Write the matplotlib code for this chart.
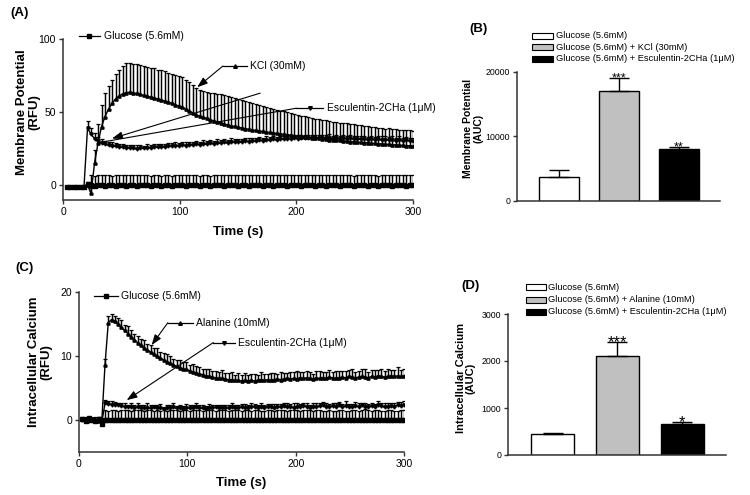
import numpy as np
import matplotlib
matplotlib.use('Agg')
import matplotlib.pyplot as plt
from matplotlib.patches import Rectangle

plt.rcParams['font.family'] = ['Liberation Sans', 'DejaVu Sans']

# time points (s)
t = np.arange(3, 301, 3)

# ---- panel A: membrane potential (RFU) ----
glc_a = [-0.9, -1.1, -0.8, -1.2, -0.9, -1.0, 1.2,
         0.1, -0.2, 0.0, 0.2, -0.1, 0.1, 0.0, -0.2, 0.1, 0.0,
         -0.1, 0.2, 0.0, -0.1, 0.1, 0.0, 0.2, -0.1, 0.0, 0.1,
         -0.2, 0.0, 0.1, -0.1, 0.0, 0.2, 0.0, -0.1, 0.1, 0.0,
         0.1, -0.1, 0.0, 0.2, -0.2, 0.0, 0.1, 0.0, -0.1, 0.1,
         0.0, 0.2, -0.1, 0.0, 0.1, -0.1, 0.0, 0.1, 0.0, -0.2,
         0.1, 0.0, -0.1, 0.2, 0.0, 0.1, -0.1, 0.0, 0.1, 0.0,
         -0.1, 0.1, 0.0, 0.2, -0.1, 0.0, 0.1, -0.2, 0.0, 0.1,
         0.0, -0.1, 0.2, 0.0, 0.1, -0.1, 0.0, 0.1, 0.0, -0.1,
         0.2, 0.0, -0.1, 0.1, 0.0, 0.1, -0.2, 0.0, 0.1, 0.0,
         -0.1, 0.1, 0.0]
glc_a_err = [0.0, 0.0, 0.0, 0.0, 0.0, 0.0, 1.0,
             7.0, 6.8, 7.2, 6.9, 7.1, 7.0, 6.7, 7.2, 6.9, 7.0,
             7.1, 6.8, 7.0, 7.3, 6.9, 7.0, 7.1, 6.8, 7.2, 7.0,
             6.9, 7.1, 7.0, 6.8, 7.2, 7.0, 6.9, 7.1, 7.0, 7.2,
             7.0, 6.8, 7.1, 7.0, 6.9, 7.2, 7.0, 6.8, 7.1, 7.0,
             7.2, 6.9, 7.0, 7.1, 6.8, 7.0, 7.2, 6.9, 7.0, 7.1,
             6.9, 7.0, 7.2, 6.8, 7.1, 7.0, 6.9, 7.2, 7.0, 6.8,
             7.1, 7.0, 6.9, 7.2, 7.0, 7.1, 6.8, 7.0, 7.2, 6.9,
             7.0, 7.1, 6.9, 7.0, 7.2, 6.8, 7.0, 7.1, 6.9, 7.0,
             7.2, 7.0, 6.8, 7.1, 7.0, 6.9, 7.2, 7.0, 7.1, 6.9,
             7.0, 7.1, 7.0]
kcl_a = [-1.0, -0.8, -1.1, -0.9, -1.2, -0.8, 0.2,
         -5.5, 15.0, 29.0, 40.0, 47.0, 52.0, 56.0, 59.0, 61.0, 62.5,
         63.4, 63.6, 63.2, 62.8, 62.1, 61.4, 61.1, 60.3, 59.9, 59.1,
         58.5, 57.5, 56.9, 56.2, 55.1, 54.3, 53.5, 52.0, 50.9, 49.6,
         48.1, 47.3, 46.4, 45.8, 44.8, 44.2, 43.2, 42.7, 41.8, 41.4,
         40.6, 40.3, 39.6, 39.3, 38.7, 38.4, 37.8, 37.6, 37.0, 36.9,
         36.3, 36.2, 35.7, 35.6, 35.1, 35.0, 34.5, 34.4, 33.9, 33.8,
         33.3, 33.2, 32.8, 32.7, 32.2, 32.1, 31.7, 31.6, 31.2, 31.1,
         30.7, 30.7, 30.3, 30.3, 29.9, 29.9, 29.5, 29.5, 29.1, 29.1,
         28.7, 28.7, 28.4, 28.4, 28.0, 28.1, 27.7, 27.7, 27.4, 27.4,
         27.1, 27.1, 26.9]
kcl_a_err = [0.0, 0.0, 0.0, 0.0, 0.0, 0.0, 1.5,
             4.0, 9.0, 13.0, 15.0, 16.0, 16.0, 16.0, 17.0, 18.0, 19.0,
             20.0, 20.0, 19.5, 20.0, 19.8, 20.2, 19.6, 20.0, 20.3, 19.7,
             20.0, 20.4, 19.8, 20.1, 20.5, 20.2, 20.6, 20.0, 19.4, 18.8,
             18.2, 17.6, 17.8, 18.3, 18.6, 19.0, 19.3, 19.5, 19.6, 19.7,
             19.8, 19.7, 19.5, 19.2, 18.9, 18.6, 18.3, 18.0, 17.7, 17.4,
             17.1, 16.8, 16.5, 16.2, 15.9, 15.6, 15.3, 15.0, 14.7, 14.4,
             14.2, 14.0, 13.8, 13.6, 13.4, 13.2, 13.0, 12.8, 12.7, 12.5,
             12.4, 12.2, 12.1, 12.0, 11.8, 11.7, 11.6, 11.5, 11.4, 11.3,
             11.2, 11.1, 11.0, 10.9, 10.8, 10.8, 10.7, 10.6, 10.6, 10.5,
             10.5, 10.4, 10.4]
esc_a = [-0.8, -1.0, -0.9, -1.1, -1.0, -0.9, 39.0,
         35.0, 32.0, 30.0, 28.8, 28.0, 27.4, 27.0, 26.6, 26.2, 26.0,
         25.7, 25.5, 25.3, 25.0, 25.5, 25.2, 25.8, 25.6, 26.2, 26.0,
         26.5, 26.2, 26.8, 26.6, 27.2, 26.9, 27.5, 27.2, 27.8, 27.5,
         28.1, 27.8, 28.4, 28.1, 28.7, 28.4, 29.0, 28.7, 29.3, 29.0,
         29.6, 29.3, 29.9, 29.6, 30.2, 29.9, 30.5, 30.2, 30.8, 30.5,
         31.1, 30.8, 31.4, 31.1, 31.7, 31.4, 32.0, 31.7, 32.2, 31.9,
         32.4, 32.1, 32.5, 32.2, 32.6, 32.2, 32.6, 32.1, 32.5, 32.0,
         32.4, 31.9, 32.2, 31.7, 32.1, 31.6, 31.9, 31.4, 31.8, 31.3,
         31.6, 31.1, 31.4, 30.9, 31.3, 30.8, 31.1, 30.6, 31.0, 30.5,
         30.8, 30.3, 30.4]
esc_a_err = [0.0, 0.0, 0.0, 0.0, 0.0, 0.0, 5.0,
             4.0, 3.5, 3.0, 2.6, 2.4, 2.2, 2.3, 2.1, 2.4, 2.2,
             2.0, 2.3, 2.1, 2.5, 2.2, 2.0, 2.4, 2.1, 2.3, 2.2,
             2.0, 2.4, 2.2, 2.1, 2.5, 2.2, 2.0, 2.3, 2.1, 2.4,
             2.2, 2.0, 2.3, 2.5, 2.1, 2.2, 2.4, 2.0, 2.3, 2.1,
             2.5, 2.2, 2.0, 2.4, 2.1, 2.3, 2.2, 2.0, 2.4, 2.1,
             2.3, 2.5, 2.2, 2.0, 2.3, 2.1, 2.4, 2.2, 2.0, 2.3,
             2.1, 2.4, 2.2, 2.5, 2.0, 2.3, 2.1, 2.2, 2.4, 2.0,
             2.3, 2.1, 2.5, 2.2, 2.0, 2.4, 2.1, 2.3, 2.2, 2.0,
             2.4, 2.1, 2.3, 2.5, 2.2, 2.0, 2.3, 2.1, 2.4, 2.2,
             2.0, 2.3, 2.1]

# ---- panel C: intracellular calcium (RFU) ----
glc_c = [0.2, -0.1, 0.3, 0.0, -0.2, 0.1, -0.6,
         0.0, 0.05, -0.05, 0.0, 0.05, 0.0, -0.05, 0.0, 0.05, 0.0,
         -0.05, 0.0, 0.05, 0.0, -0.05, 0.05, 0.0, -0.05, 0.0, 0.05,
         0.0, -0.05, 0.0, 0.05, 0.0, -0.05, 0.05, 0.0, 0.0, -0.05,
         0.05, 0.0, -0.05, 0.0, 0.05, 0.0, -0.05, 0.05, 0.0, 0.0,
         -0.05, 0.05, 0.0, -0.05, 0.0, 0.05, 0.0, 0.0, -0.05, 0.05,
         0.0, -0.05, 0.0, 0.05, 0.0, -0.05, 0.05, 0.0, -0.05, 0.0,
         0.05, 0.0, -0.05, 0.0, 0.05, 0.0, 0.0, -0.05, 0.05, 0.0,
         -0.05, 0.0, 0.05, 0.0, -0.05, 0.05, 0.0, 0.0, -0.05, 0.0,
         0.05, 0.0, -0.05, 0.05, 0.0, -0.05, 0.0, 0.05, 0.0, -0.05,
         0.0, 0.05, 0.0]
glc_c_err = [0.2, 0.3, 0.2, 0.3, 0.2, 0.3, 0.3,
             1.5, 1.4, 1.6, 1.5, 1.4, 1.5, 1.6, 1.5, 1.4, 1.5,
             1.6, 1.5, 1.4, 1.5, 1.6, 1.4, 1.5, 1.5, 1.6, 1.4,
             1.5, 1.6, 1.5, 1.4, 1.5, 1.6, 1.4, 1.5, 1.5, 1.6,
             1.4, 1.5, 1.6, 1.5, 1.4, 1.5, 1.6, 1.5, 1.4, 1.5,
             1.6, 1.5, 1.4, 1.6, 1.5, 1.4, 1.5, 1.6, 1.5, 1.4,
             1.5, 1.6, 1.4, 1.5, 1.5, 1.6, 1.4, 1.5, 1.6, 1.5,
             1.4, 1.5, 1.6, 1.5, 1.4, 1.6, 1.5, 1.5, 1.4, 1.6,
             1.5, 1.4, 1.5, 1.6, 1.5, 1.4, 1.5, 1.6, 1.4, 1.5,
             1.6, 1.5, 1.4, 1.5, 1.6, 1.5, 1.4, 1.5, 1.6, 1.5,
             1.4, 1.5, 1.6]
ala_c = [0.1, -0.1, 0.2, 0.0, 0.1, -0.2, -0.3, 8.6, 15.2, 15.7,
         15.4, 15.0, 14.5, 14.0, 13.5, 13.0, 12.5, 12.1, 11.7, 11.3,
         10.9, 10.6, 10.3, 10.0, 9.7, 9.4, 9.1, 8.9, 8.6, 8.4,
         8.2, 8.0, 7.9, 7.7, 7.5, 7.4, 7.2, 7.1, 6.9, 6.8,
         6.7, 6.6, 6.5, 6.5, 6.4, 6.3, 6.3, 6.2, 6.2, 6.1,
         6.2, 6.1, 6.2, 6.1, 6.2, 6.3, 6.2, 6.3, 6.2, 6.3,
         6.4, 6.3, 6.4, 6.5, 6.4, 6.5, 6.4, 6.6, 6.5, 6.6,
         6.5, 6.4, 6.6, 6.5, 6.6, 6.5, 6.7, 6.6, 6.5, 6.6,
         6.7, 6.6, 6.8, 6.7, 6.6, 6.7, 6.8, 6.7, 6.6, 6.8,
         6.7, 6.9, 6.8, 6.7, 6.8, 6.9, 6.8, 6.9, 6.8, 6.9]
ala_c_err = [0.2, 0.3, 0.2, 0.2, 0.3, 0.2, 0.3, 0.9, 1.0, 0.9,
             0.9, 1.0, 1.1, 0.9, 1.2, 1.0, 0.9, 1.1, 1.0, 1.2,
             0.9, 1.1, 1.0, 1.3, 0.9, 1.0, 1.2, 1.1, 0.9, 1.0,
             1.2, 1.0, 1.1, 0.9, 1.3, 1.0, 1.1, 0.8, 1.0, 1.2,
             0.9, 1.1, 1.0, 1.3, 0.9, 1.0, 1.2, 0.8, 1.1, 1.0,
             1.2, 0.9, 1.0, 1.1, 0.8, 1.2, 1.0, 0.9, 1.1, 1.0,
             0.8, 1.2, 1.0, 0.9, 1.1, 1.0, 1.3, 0.9, 1.0, 1.1,
             1.0, 0.8, 1.1, 1.2, 0.9, 1.0, 1.1, 0.9, 1.2, 1.0,
             0.9, 1.1, 1.0, 1.2, 0.9, 1.0, 1.1, 1.3, 0.9, 1.0,
             1.1, 0.9, 1.2, 1.0, 1.1, 0.9, 1.0, 1.4, 1.0, 1.1]
esc_c = [0.0, 0.2, -0.1, 0.1, -0.2, 0.1, -0.4,
         2.6, 2.5, 2.4, 2.3, 2.3, 2.2, 2.1, 2.0, 2.1, 1.9,
         2.0, 1.9, 1.8, 1.9, 1.8, 2.0, 1.8, 1.9, 1.7, 1.9,
         1.8, 2.0, 1.8, 1.9, 1.7, 1.8, 1.9, 1.8, 2.0, 1.8,
         1.9, 1.7, 1.9, 1.8, 2.0, 1.8, 1.9, 1.8, 1.9, 2.0,
         1.8, 1.9, 2.0, 1.9, 1.8, 2.0, 2.1, 1.9, 2.0, 1.9,
         2.1, 2.0, 1.9, 2.1, 2.0, 2.2, 2.0, 2.1, 1.9, 2.1,
         2.0, 2.2, 2.1, 1.9, 2.1, 2.0, 2.2, 2.3, 2.1, 2.0,
         2.2, 2.1, 2.3, 2.0, 2.2, 2.1, 2.0, 2.2, 2.1, 2.3,
         2.1, 2.0, 2.2, 2.1, 2.3, 2.2, 2.0, 2.1, 2.2, 2.1,
         2.3, 2.2, 2.4]
esc_c_err = [0.2, 0.2, 0.3, 0.2, 0.2, 0.3, 0.3,
             0.5, 0.4, 0.6, 0.5, 0.4, 0.5, 0.6, 0.4, 0.5, 0.5,
             0.6, 0.4, 0.5, 0.7, 0.5, 0.4, 0.5, 0.6, 0.4, 0.5,
             0.5, 0.6, 0.4, 0.5, 0.5, 0.7, 0.4, 0.5, 0.6, 0.5,
             0.4, 0.5, 0.6, 0.5, 0.4, 0.6, 0.5, 0.5, 0.4, 0.6,
             0.5, 0.4, 0.5, 0.6, 0.5, 0.7, 0.4, 0.5, 0.6, 0.5,
             0.4, 0.5, 0.6, 0.4, 0.5, 0.5, 0.6, 0.4, 0.7, 0.5,
             0.5, 0.4, 0.6, 0.5, 0.5, 0.6, 0.4, 0.5, 0.6, 0.5,
             0.4, 0.6, 0.5, 0.5, 0.7, 0.4, 0.5, 0.6, 0.5, 0.4,
             0.6, 0.5, 0.5, 0.4, 0.6, 0.5, 0.7, 0.5, 0.4, 0.6,
             0.5, 0.6, 0.5]

# ---- panels B and D: AUC bars ----
auc_mp = [3650, 17050, 8060]
auc_mp_err = [1080, 2060, 360]
auc_mp_stars = ['', '***', '**']
mp_labels = ['Glucose (5.6mM)', 'Glucose (5.6mM) + KCl (30mM)',
             'Glucose (5.6mM) + Esculentin-2CHa (1\u03bcM)']
auc_ca = [440, 2106, 662]
auc_ca_err = [34, 305, 33]
auc_ca_stars = ['', '***', '*']
ca_labels = ['Glucose (5.6mM)', 'Glucose (5.6mM) + Alanine (10mM)',
             'Glucose (5.6mM) + Esculentin-2CHa (1\u03bcM)']
bar_colors = ['white', '#c0c0c0', 'black']

W, H = 750, 495
fig = plt.figure(figsize=(7.5, 4.95), dpi=100)


def add_ax(x0, x1, y0, y1):
    return fig.add_axes([x0 / W, 1 - y1 / H, (x1 - x0) / W, (y1 - y0) / H])


def ftext(x, y, s, **kw):
    fig.text(x / W, 1 - y / H, s, **kw)


def style(ax, fs):
    for s in ['top', 'right']:
        ax.spines[s].set_visible(False)
    for s in ['left', 'bottom']:
        ax.spines[s].set_linewidth(1.1)
        ax.spines[s].set_color('#333333')
    ax.tick_params(length=3, width=1.0, color='#333333', labelsize=fs, pad=2)


def trace(ax, mean, err, marker):
    ax.errorbar(t, mean, yerr=[np.zeros(len(err)), err], color='black',
                lw=1.0, marker=marker, ms=2.3, elinewidth=1.05,
                capsize=1.3, capthick=0.9)


def tag(ax, x0, x1, y, marker, text, tx):
    ax.plot([x0, x1], [y, y], color='black', lw=0.9, clip_on=False)
    ax.plot([(x0 + x1) / 2], [y], marker=marker, color='black', ms=2.6,
            clip_on=False)
    ax.text(tx, y, text, fontsize=7.5, va='center', ha='left')


def arrow(ax, tail, head, headed=True):
    style_ = '-|>,head_length=0.7,head_width=0.25' if headed else '-'
    ax.annotate('', xy=head, xytext=tail, annotation_clip=False,
                arrowprops=dict(arrowstyle=style_, color='black', lw=0.8,
                                shrinkA=0, shrinkB=0, mutation_scale=9))


def bars(ax, vals, errs, stars, star_fs):
    x = np.arange(len(vals))
    ax.bar(x, vals, 0.66, color=bar_colors, edgecolor='black', lw=1.0)
    ax.errorbar(x, vals, yerr=[np.zeros(len(errs)), errs], fmt='none',
                ecolor='black', elinewidth=1.0, capsize=7, capthick=1.0)
    for xi, v, e, s in zip(x, vals, errs, stars):
        if s:
            ax.annotate(s, xy=(xi, v + e), xytext=(0, -0.3 * star_fs),
                        textcoords='offset points', ha='center',
                        va='baseline', fontsize=star_fs, annotation_clip=False)
    ax.set_xticks([])


def legend(x, ys, w, labels, fs):
    for y, lab, c in zip(ys, labels, bar_colors):
        fig.add_artist(Rectangle((x / W, 1 - (y + 3) / H), w / W, 6 / H,
                                 transform=fig.transFigure, fc=c,
                                 ec='black', lw=0.8))
        ftext(x + w + 2.5, y, lab, fontsize=fs, va='center')


# panel A
axA = add_ax(63, 413, 39, 200)
trace(axA, glc_a, glc_a_err, 's')
trace(axA, kcl_a, kcl_a_err, '^')
trace(axA, esc_a, esc_a_err, 'v')
axA.set_xlim(0, 300)
axA.set_ylim(-10, 100)
axA.set_xticks([0, 100, 200, 300])
axA.set_yticks([0, 50, 100])
style(axA, 7.5)
tag(axA, 13.7, 31.7, 102, 's', 'Glucose (5.6mM)', 35)
tag(axA, 137, 158, 81.5, '^', 'KCl (30mM)', 160)
arrow(axA, (137, 81.5), (115, 67))
arrow(axA, (169, 63), (42, 32))
tag(axA, 200, 223, 52.7, 'v', 'Esculentin-2CHa (1\u03bcM)', 226)
arrow(axA, (200, 52.7), (33, 29.5), headed=False)

# panel C
axC = add_ax(79, 404, 292, 452)
trace(axC, glc_c, glc_c_err, 's')
trace(axC, ala_c, ala_c_err, '^')
trace(axC, esc_c, esc_c_err, 'v')
axC.set_xlim(0, 300)
axC.set_ylim(-5, 20)
axC.set_xticks([0, 100, 200, 300])
axC.set_yticks([0, 10, 20])
style(axC, 7.5)
tag(axC, 13.8, 36, 19.4, 's', 'Glucose (5.6mM)', 38.8)
tag(axC, 82, 105, 15.2, '^', 'Alanine (10mM)', 108)
arrow(axC, (82, 15.2), (67, 11.7))
tag(axC, 124, 144, 12.1, 'v', 'Esculentin-2CHa (1\u03bcM)', 147)
arrow(axC, (124, 12.1), (44, 3.1))

# panel B
axB = add_ax(517, 720, 72, 201)
bars(axB, auc_mp, auc_mp_err, auc_mp_stars, 9)
axB.set_xlim(-0.7, 2.683)
axB.set_ylim(0, 20000)
axB.set_yticks([0, 10000, 20000])
style(axB, 6.3)
legend(532, [36, 47, 58.5], 21, mp_labels, 6.7)

# panel D
axD = add_ax(508, 726, 314, 455)
bars(axD, auc_ca, auc_ca_err, auc_ca_stars, 12)
axD.set_xlim(-0.685, 2.67)
axD.set_ylim(0, 3000)
axD.set_yticks([0, 1000, 2000, 3000])
style(axD, 6.3)
legend(526, [287, 299.5, 311.5], 20, ca_labels, 6.7)

# labels
bold = dict(fontweight='bold', ha='center', va='center')
ftext(238, 232, 'Time (s)', fontsize=9.5, **bold)
ftext(241, 483, 'Time (s)', fontsize=9.5, **bold)
ftext(28.5, 112, 'Membrane Potential\n(RFU)', rotation=90, fontsize=9.5,
      linespacing=1.0, **bold)
ftext(40, 362, 'Intracellular Calcium\n(RFU)', rotation=90, fontsize=9.5,
      linespacing=1.0, **bold)
ftext(473, 128, 'Membrane Potential\n(AUC)', rotation=90, fontsize=7.5,
      linespacing=1.0, **bold)
ftext(466, 378, 'Intracellular Calcium\n(AUC)', rotation=90, fontsize=8,
      linespacing=1.0, **bold)
for x, y, s in [(20, 13, '(A)'), (478, 29, '(B)'), (24, 268, '(C)'),
                (470, 286, '(D)')]:
    ftext(x, y, s, fontsize=9.5, **bold)

fig.savefig('out.png', dpi=100)
